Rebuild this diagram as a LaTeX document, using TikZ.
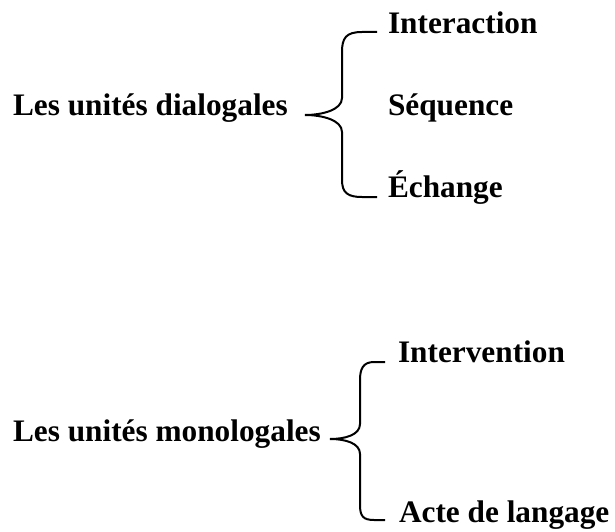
\documentclass[tikz,border=0pt]{standalone}
\usepackage{fontspec}
\setmainfont{Liberation Serif}
\begin{document}
\begin{tikzpicture}[x=1pt, y=-1pt, line width=2pt,
    unit/.style={anchor=base west, inner sep=0pt, font=\fontsize{31.3}{36}\selectfont\bfseries}]
      \useasboundingbox (0,0) rectangle (615,532);
      % dialogales
      \node[unit] (dialog) at (12,116) {Les unités dialogales};
      \node[unit] (inter) at (387,34) {Interaction};
      \node[unit] (seq) at (387,116) {Séquence};
      \node[unit] (ech) at (387,197) {Échange};
      \coordinate (tipa) at (305,115);
      \coordinate (topa) at (377,32);
      \coordinate (bota) at (377,197);
      \draw (topa) -- (362,32) .. controls (346,32) and (342,38) .. (342,52) -- (342,98)
      .. controls (342,110) and (322,115) .. (tipa)
      .. controls (322,115) and (342,120) .. (342,132) -- (342,180)
      .. controls (342,193) and (348,197) .. (362,197) -- (bota);
      % monologales
      \node[unit] (mono) at (12,441) {Les unités monologales};
      \node[unit] (interv) at (397,362) {Intervention};
      \node[unit] (acte) at (398,522) {Acte de langage};
      \coordinate (tipb) at (330,439);
      \coordinate (topb) at (385,362);
      \coordinate (botb) at (385,520);
      \draw (topb) -- (374,362) .. controls (363,362) and (360,369) .. (360,380) -- (360,424)
      .. controls (360,435) and (345,439) .. (tipb)
      .. controls (345,439) and (360,443) .. (360,454) -- (360,505)
      .. controls (360,516) and (363,520) .. (374,520) -- (botb);
\end{tikzpicture}
\end{document}
